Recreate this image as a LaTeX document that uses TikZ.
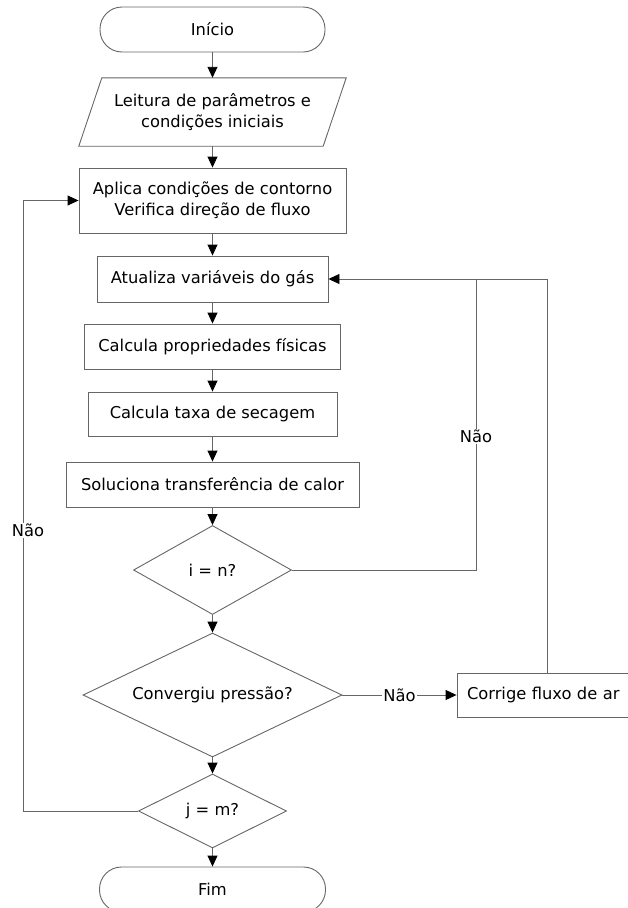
\documentclass[tikz,border=0pt]{standalone}
\usepackage{fontspec}
\setmainfont{DejaVu Sans}
\usepackage{tikz}
\usetikzlibrary{arrows.meta}
\usetikzlibrary{shapes}
\usetikzlibrary{calc}
\tikzstyle{processo}=[draw=black!60,line width=0.9pt,rectangle,inner sep=2pt,align=center]
\tikzstyle{terminal}=[processo,rounded corners=22pt]
\tikzstyle{decisao}=[draw=black!60,line width=0.9pt,diamond,aspect=2,inner sep=1pt,align=center]
\tikzstyle{linha}=[draw=black!60,line width=0.9pt]
\tikzstyle{seta}=[linha,-{Triangle[length=11pt,width=10pt,color=black]}]
\tikzstyle{rotulo}=[fill=white,inner sep=1pt]

\begin{document}
\begin{tikzpicture}[x=1pt,y=-1pt,font=\fontsize{16.3}{21}\selectfont]
\useasboundingbox (0,0) rectangle (627,908);
    \node [terminal,minimum width=225pt,minimum height=45pt] (inicio) at (212.5,29.5) {Início};
    \node [minimum width=244pt,minimum height=68pt,inner sep=0pt,align=center] (leitura) at (212.5,112) {Leitura de parâmetros e\\condições iniciais};
    \draw [linha] ([xshift=11.5pt]leitura.north west) -- ([xshift=11.5pt]leitura.north east)
      -- ([xshift=-11.5pt]leitura.south east) -- ([xshift=-11.5pt]leitura.south west) -- cycle;
    \node [processo,minimum width=267pt,minimum height=65pt] (aplica) at (212.5,200.5) {Aplica condições de contorno\\Verifica direção de fluxo};
    \node [processo,minimum width=231pt,minimum height=46pt] (atualiza) at (212.5,279) {Atualiza variáveis do gás};
    \node [processo,minimum width=256pt,minimum height=45pt] (propriedades) at (212.5,346.5) {Calcula propriedades físicas};
    \node [processo,minimum width=249pt,minimum height=44pt] (secagem) at (212.5,414) {Calcula taxa de secagem};
    \node [processo,minimum width=293pt,minimum height=45pt] (calor) at (212.5,484.5) {Soluciona transferência de calor};
    \node [decisao,minimum width=158pt,minimum height=89pt] (iteracao) at (212.5,570) {i = n?};
    \node [decisao,minimum width=259pt,minimum height=124pt] (pressao) at (212.5,695) {Convergiu pressão?};
    \node [decisao,minimum width=148pt,minimum height=74pt] (tempo) at (212.5,811) {j = m?};
    \node [terminal,minimum width=226pt,minimum height=45pt] (fim) at (212.5,889.5) {Fim};
    \node [processo,minimum width=190pt,minimum height=44pt,text width=170pt,align=left] (corrige) at (552,695) {Corrige fluxo de ar};

    \coordinate (retorno) at (476,279);
    \coordinate (volta) at (23,811);

    \draw [seta] (inicio.south) -- (leitura.north);
    \draw [seta] (leitura.south) -- (aplica.north);
    \draw [seta] (aplica.south) -- (atualiza.north);
    \draw [seta] (atualiza.south) -- (propriedades.north);
    \draw [seta] (propriedades.south) -- (secagem.north);
    \draw [seta] (secagem.south) -- (calor.north);
    \draw [seta] (calor.south) -- (iteracao.north);
    \draw [seta] (iteracao.south) -- (pressao.north);
    \draw [seta] (pressao.south) -- (tempo.north);
    \draw [seta] (tempo.south) -- (fim.north);

    \draw [linha] (iteracao.east) -| node [rotulo,pos=0.73] {Não} (retorno);
    \draw [seta] ([xshift=-5pt]corrige.north) |- (atualiza.east);
    \draw [seta] (pressao.east) -- node [rotulo] {Não} (corrige.west);
    \draw [seta] (tempo.west) -- (volta) |- node [rotulo,pos=0.23,xshift=5pt] {Não} (aplica.west);
\end{tikzpicture}
\end{document}
